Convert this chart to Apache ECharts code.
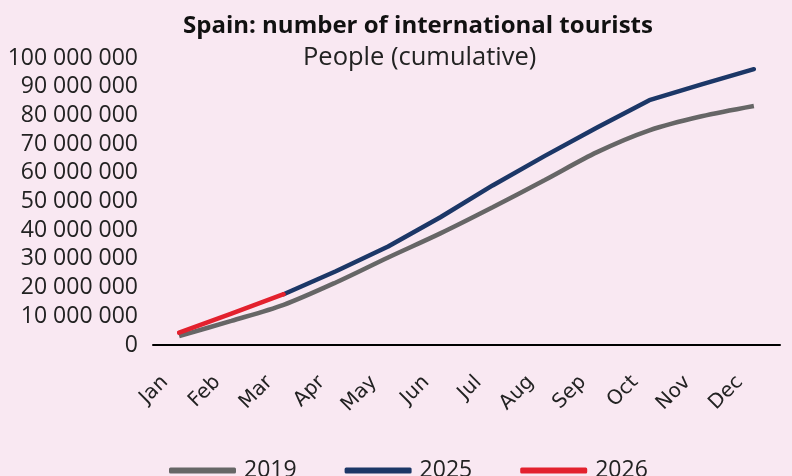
<!DOCTYPE html>
<head>
    <meta charset="utf-8">
    <title>Spain tourists</title>
    <script src="https://cdn.jsdelivr.net/npm/echarts@6/dist/echarts.min.js"></script>
    <style>
        html, body { margin:0; padding:0; background:#f9e8f2; }
    </style>
</head>
<body>
	<div id="main" style="width:792px;height:476px"></div>
	<script type="text/javascript">
        // 数据
        var months = ['Jan','Feb','Mar','Apr','May','Jun','Jul','Aug','Sep','Oct','Nov','Dec'];
        var y2019 = [3100000, 8400000, 14000000, 21800000, 30500000, 38900000, 48000000, 57500000, 67200000, 74800000, 79700000, 83300000];
        var y2025 = ['-', '-', 17700000, 25700000, 34300000, 44500000, 55600000, 65900000, 75800000, 85300000, 90800000, 96100000];
        var y2026 = [4300000, 10900000, 17700000];
        var yTicks = [0, 10000000, 20000000, 30000000, 40000000, 50000000, 60000000, 70000000, 80000000, 90000000, 100000000];

        var myChart = echarts.init(document.getElementById('main'));

        function fmt(v) {
            return String(v).replace(/\B(?=(\d{3})+(?!\d))/g, ' ');
        }

        var option = {
            backgroundColor: '#f9e8f2',
            animation: false,
            title: [
                {
                    text: 'Spain: number of international tourists',
                    left: 178,
                    top: 9,
                    textStyle: {fontFamily: 'Open Sans', fontWeight: 'bold', fontSize: 24, color: '#111'}
                },
                {
                    text: 'People (cumulative)',
                    left: 298,
                    top: 40,
                    textStyle: {fontFamily: 'Open Sans', fontWeight: 'normal', fontSize: 25.5, color: '#222'}
                }
            ],
            legend: {
                left: 164,
                top: 454,
                itemWidth: 67,
                itemHeight: 6,
                itemGap: 48,
                icon: 'roundRect',
                textStyle: {fontFamily: 'Open Sans', fontSize: 23, color: '#222', padding: [0, 0, 0, 3]},
                data: ['2019', '2025', '2026']
            },
            grid: {left: 153, right: 12, top: 58, bottom: 131},
            xAxis: {
                type: 'category',
                boundaryGap: true,
                data: months,
                axisLine: {lineStyle: {color: '#000', width: 2}},
                axisTick: {inside: true, length: 5, lineStyle: {color: '#000', width: 2}},
                axisLabel: {rotate: 45, margin: 20, padding: [0, 20, 0, 0], fontFamily: 'DejaVu Sans', fontSize: 20, color: '#222'}
            },
            yAxis: {
                type: 'value',
                min: 0,
                max: 100000000,
                interval: 10000000,
                axisLine: {show: false},
                axisTick: {show: false},
                splitLine: {show: false},
                axisLabel: {
                    margin: 15,
                    fontFamily: 'Open Sans',
                    fontSize: 23,
                    color: '#222',
                    formatter: function(v) { return yTicks.indexOf(v) >= 0 ? fmt(v) : ''; }
                }
            },
            series: [
                {
                    name: '2019',
                    type: 'line',
                    data: y2019,
                    smooth: 0.3,
                    showSymbol: false,
                    color: '#666666',
                    lineStyle: {width: 4.5, color: '#666666'}
                },
                {
                    name: '2025',
                    type: 'line',
                    data: y2025,
                    showSymbol: false,
                    color: '#1c3767',
                    lineStyle: {width: 4.5, color: '#1c3767', cap: 'round', join: 'round'}
                },
                {
                    name: '2026',
                    type: 'line',
                    data: y2026,
                    showSymbol: false,
                    color: '#e3212e',
                    lineStyle: {width: 4.5, color: '#e3212e', cap: 'round', join: 'round'}
                }
            ]
        };

        myChart.setOption(option);
    </script>
</body>
